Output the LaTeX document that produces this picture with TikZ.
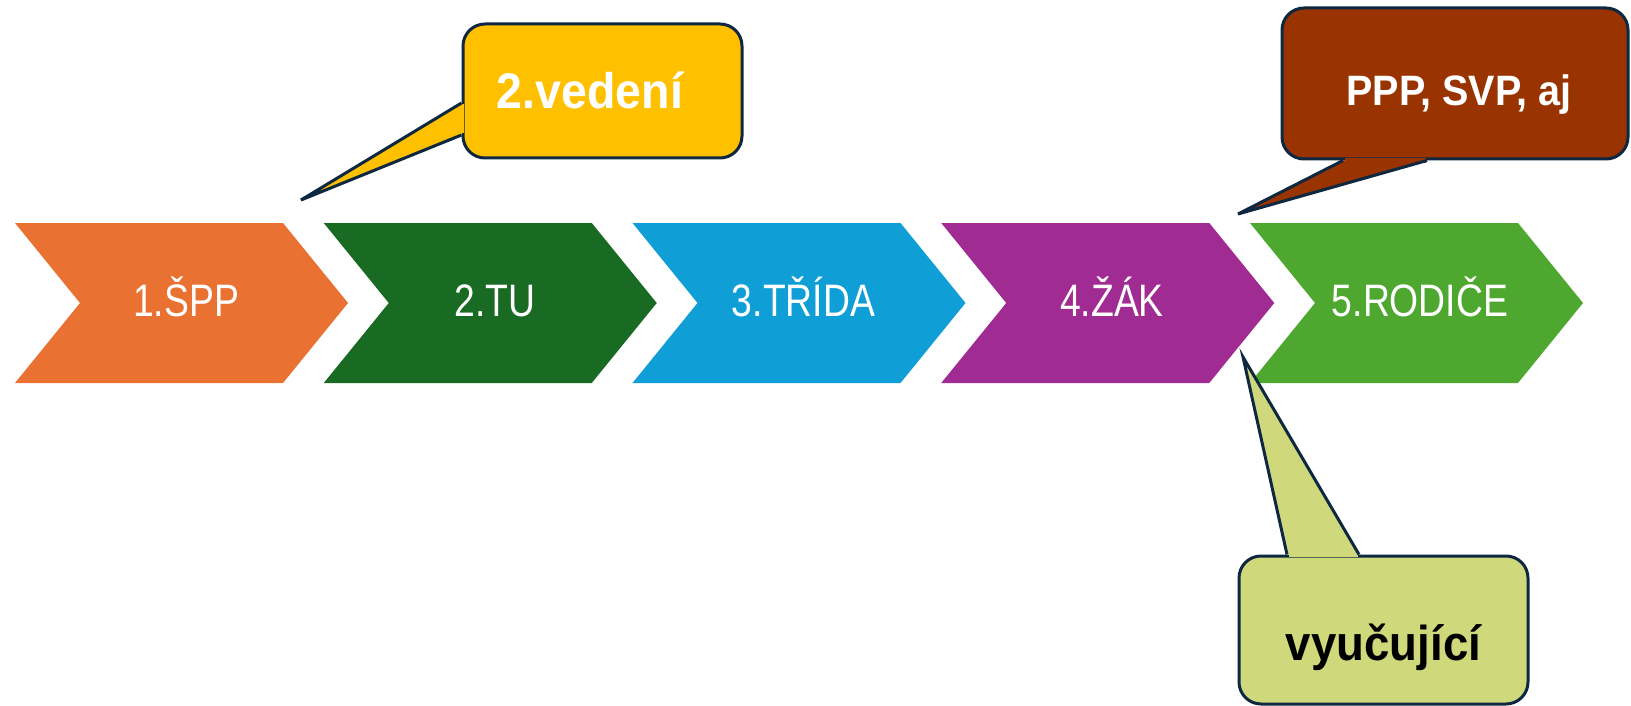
\documentclass[tikz,border=0pt]{standalone}
\usepackage{fontspec}
\setmainfont{Liberation Sans}
\newfontfamily\chevfont[FakeStretch=0.82]{Liberation Sans}
\newfontfamily\callfont[FakeStretch=0.93]{Liberation Sans}
\definecolor{cOrange}{HTML}{E97132}
\definecolor{cDkGreen}{HTML}{196B24}
\definecolor{cBlue}{HTML}{0F9ED5}
\definecolor{cPurple}{HTML}{A02B93}
\definecolor{cGreen}{HTML}{4EA72E}
\definecolor{cYellow}{HTML}{FFC000}
\definecolor{cBrown}{HTML}{993300}
\definecolor{cLime}{HTML}{D0D87C}
\definecolor{cBorder}{HTML}{0E2841}
\newcommand\mkchev[2]{%
  \path[fill=#2] (#1,223) -- ++(268,0) -- ++(65,80) -- ++(-65,80) -- ++(-268,0) -- ++(65,-80) -- cycle;}
\tikzset{
  chevtext/.style={text=white, font=\chevfont\fontsize{45.5}{50}\selectfont, anchor=base, inner sep=0pt},
  calltext/.style={font=\callfont\bfseries\fontsize{#1}{#1}\selectfont, anchor=base, inner sep=0pt},
  callbox/.style={fill=#1, draw=cBorder, line width=3pt, rounded corners=22pt, inner sep=0pt},
  ptrline/.style={draw=cBorder, line width=3pt, line join=miter},
}
\begin{document}
\begin{tikzpicture}[x=1pt,y=-1pt]
\useasboundingbox (0,0) rectangle (1631,706);
\fill[white] (0,0) rectangle (1631,706);
% chevrons
\mkchev{15}{cOrange}
\mkchev{323.75}{cDkGreen}
\mkchev{632.5}{cBlue}
\mkchev{941.25}{cPurple}
\mkchev{1250}{cGreen}
\node[chevtext] (spp) at (186,316) {1.ŠPP};
\node[chevtext] (tu) at (495,316) {2.TU};
\node[chevtext] (trida) at (803.5,316) {3.TŘÍDA};
\node[chevtext] (zak) at (1112,316) {4.ŽÁK};
\node[chevtext] (rodice) at (1420,316) {5.RODIČE};
% callout 1: 2.vedeni
\node[callbox=cYellow, minimum width=279pt, minimum height=134pt] (vedbox) at (602.5,91) {};
\coordinate (vedtip) at (301,200);
\coordinate (veda) at ([yshift=-12pt]vedbox.west);
\coordinate (vedb) at ([yshift=-44pt]vedbox.west);
\fill[cYellow] (veda) -- (vedtip) -- (vedb) -- cycle;
\fill[cYellow] ([xshift=-2.5pt,yshift=-1.5pt]veda) rectangle ([xshift=2.5pt,yshift=1.5pt]vedb);
\draw[ptrline] (veda) -- (vedtip) -- (vedb);
\node[calltext=50, text=white] (vedtext) at (590,109) {2.vedení};
% callout 2: PPP, SVP, aj
\node[callbox=cBrown, minimum width=346pt, minimum height=151pt] (pppbox) at (1455,83.5) {};
\coordinate (ppptip) at (1238,214);
\coordinate (pppa) at ([xshift=-112pt]pppbox.south);
\coordinate (pppb) at ([xshift=-28pt]pppbox.south);
\fill[cBrown] (pppa) -- (ppptip) -- (pppb) -- cycle;
\fill[cBrown] ([xshift=1.5pt,yshift=2.5pt]pppa) rectangle ([xshift=-1.5pt,yshift=-2.5pt]pppb);
\draw[ptrline] (pppa) -- (ppptip) -- (pppb);
\node[calltext=42.5, text=white] (ppptext) at (1459,106) {PPP, SVP, aj};
% callout 3: vyucujici
\node[callbox=cLime, minimum width=289pt, minimum height=148pt] (vyubox) at (1383.5,630) {};
\coordinate (vyutip) at (1243,357);
\coordinate (vyua) at ([xshift=-96.5pt]vyubox.north);
\coordinate (vyub) at ([xshift=-24.5pt]vyubox.north);
\fill[cLime] (vyua) -- (vyutip) -- (vyub) -- cycle;
\fill[cLime] ([xshift=1.5pt,yshift=2.5pt]vyua) rectangle ([xshift=-1.5pt,yshift=-2.5pt]vyub);
\draw[ptrline] (vyua) -- (vyutip) -- (vyub);
\node[calltext=49, text=black] (vyutext) at (1383.5,660) {vyučující};
\end{tikzpicture}
\end{document}
